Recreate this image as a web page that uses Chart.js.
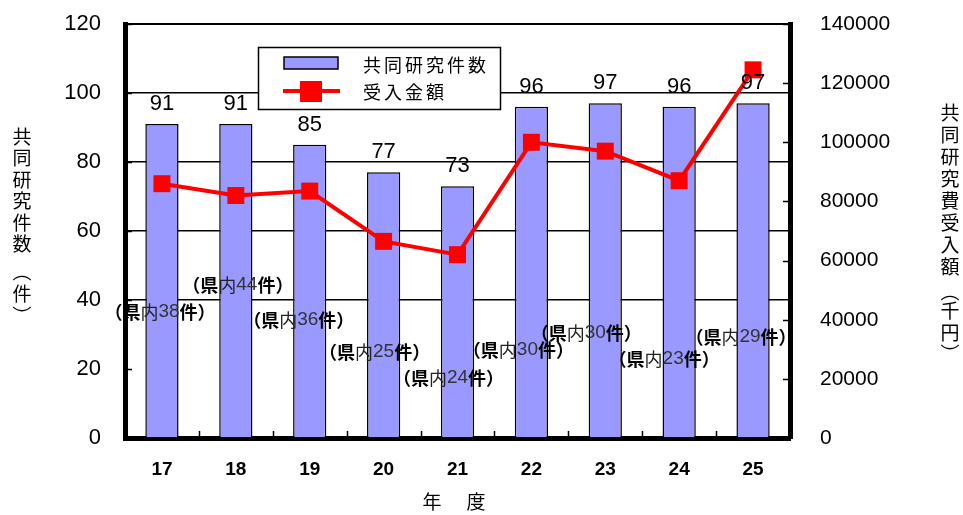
<!DOCTYPE html>
<html>
<head>
<meta charset="utf-8">
<script src="https://cdn.jsdelivr.net/npm/chart.js@4"></script>
<style>
  body { margin: 0; background: #fff; }
  #wrap { width: 963px; height: 515px; }
</style>
</head>
<body>
<div id="wrap"><canvas id="kenkyuChart" width="963" height="515"></canvas></div>
<script>
// data
const years = ['17', '18', '19', '20', '21', '22', '23', '24', '25'];
const kensu = [91, 91, 85, 77, 73, 96, 97, 96, 97];            // 共同研究件数
const ukeire = [86000, 82000, 83500, 66500, 62000, 100000, 97000, 87000, 124500]; // 受入金額 (千円)
const kennai = [38, 44, 36, 25, 24, 30, 30, 23, 29];            // 県内件数

// where the (県内xx件) notes sit: px shift from category centre, height in left-axis units
const kennaiDx = [-2, 2, -11, -9, -9, -13, -19, -15, -12];
const kennaiY = [36.5, 44.3, 34.2, 24.9, 17.4, 25.5, 30.4, 22.9, 29.3];

const JP = '"Noto Sans CJK JP", sans-serif';
const NUM = '"Liberation Sans", Arial, sans-serif';

function vText(ctx, chars, x, ys) {
  chars.forEach((c, i) => ctx.fillText(c, x, ys[i]));
}

const extras = {
  id: 'extras',
  afterDatasetsDraw(chart) {
    const ctx = chart.ctx;
    const a = chart.chartArea;
    const x = chart.scales.x, y = chart.scales.y, y1 = chart.scales.y1;
    ctx.save();

    // little inner ticks
    ctx.strokeStyle = '#000';
    ctx.lineWidth = 1.5;
    ctx.beginPath();
    y.ticks.forEach(t => {
      const py = Math.round(y.getPixelForValue(t.value)) + 0.5;
      ctx.moveTo(a.left, py); ctx.lineTo(a.left + 7, py);
    });
    y1.ticks.forEach(t => {
      const py = Math.round(y1.getPixelForValue(t.value)) + 0.5;
      ctx.moveTo(a.right - 7, py); ctx.lineTo(a.right, py);
    });
    for (let i = 0; i < years.length - 1; i++) {
      const px = Math.round((x.getPixelForValue(i) + x.getPixelForValue(i + 1)) / 2) + 0.5;
      ctx.moveTo(px, a.bottom); ctx.lineTo(px, a.bottom - 7);
    }
    ctx.stroke();

    // values above bars
    ctx.fillStyle = '#000';
    ctx.font = '22px ' + NUM;
    ctx.textAlign = 'center';
    ctx.textBaseline = 'middle';
    chart.getDatasetMeta(0).data.forEach((bar, i) => {
      ctx.fillText(String(kensu[i]), bar.x, bar.y - 20);
    });

    // (県内xx件) notes, mixed weights like the original
    kennai.forEach((n, i) => {
      const parts = [
        ['（県', 'bold 18px ' + JP, '#000'],
        ['内', '18px ' + JP, '#222'],
        [String(n), '19px ' + NUM, '#333'],
        ['件）', 'bold 18px ' + JP, '#000']
      ];
      let total = 0;
      parts.forEach(p => { ctx.font = p[1]; total += ctx.measureText(p[0]).width; });
      let px = x.getPixelForValue(i) + kennaiDx[i] - total / 2;
      const py = y.getPixelForValue(kennaiY[i]);
      ctx.textAlign = 'left';
      parts.forEach(p => {
        ctx.font = p[1];
        ctx.fillStyle = p[2];
        ctx.fillText(p[0], px, py);
        px += ctx.measureText(p[0]).width;
      });
    });
    ctx.restore();
  },
  afterDraw(chart) {
    const ctx = chart.ctx;
    const a = chart.chartArea;
    ctx.save();

    // top frame line
    ctx.strokeStyle = '#000';
    ctx.lineWidth = 2;
    ctx.beginPath();
    ctx.moveTo(a.left, a.top); ctx.lineTo(a.right, a.top);
    ctx.stroke();

    // legend box
    ctx.fillStyle = '#fff';
    ctx.fillRect(258, 47, 242, 62);
    ctx.lineWidth = 1.5;
    ctx.strokeRect(258.5, 47.5, 242, 62);
    ctx.fillStyle = '#9999FF';
    ctx.fillRect(284, 57, 54, 12);
    ctx.strokeRect(284, 57, 54, 12);
    ctx.strokeStyle = '#FF0000';
    ctx.lineWidth = 4;
    ctx.beginPath();
    ctx.moveTo(283, 91); ctx.lineTo(340, 91);
    ctx.stroke();
    ctx.fillStyle = '#FF0000';
    ctx.fillRect(300, 81, 22, 21);

    ctx.fillStyle = '#000';
    ctx.font = '18px ' + JP;
    ctx.textAlign = 'center';
    ctx.textBaseline = 'middle';
    Array.from('共同研究件数').forEach((c, i) => ctx.fillText(c, 372 + i * 21, 65));
    Array.from('受入金額').forEach((c, i) => ctx.fillText(c, 372 + i * 21, 92));

    // vertical axis titles
    ctx.font = '19px ' + JP;
    vText(ctx, Array.from('共同研究件数︵件︶'), 22, [137, 158, 180, 201, 223, 244, 272, 294, 316]);
    vText(ctx, Array.from('共同研究費受入額︵千円︶'), 950,
      [113, 135, 157, 179, 201, 223, 245, 267, 292, 311, 333, 354]);

    // x title
    ctx.font = '19px ' + JP;
    ctx.fillText('年', 432, 502);
    ctx.fillText('度', 476, 502);
    ctx.restore();
  }
};

function noPad(s) {
  s.paddingTop = 0;
  s.paddingBottom = 0;
  s.paddingLeft = 0;
  s.paddingRight = 0;
}

new Chart(document.getElementById('kenkyuChart').getContext('2d'), {
  type: 'bar',
  data: {
    labels: years,
    datasets: [
      {
        label: '共同研究件数',
        data: kensu,
        yAxisID: 'y',
        backgroundColor: '#9999FF',
        borderColor: '#000',
        borderWidth: 1.5,
        categoryPercentage: 0.45,
        barPercentage: 1.0,
        order: 2
      },
      {
        label: '受入金額',
        type: 'line',
        data: ukeire,
        yAxisID: 'y1',
        borderColor: '#FF0000',
        borderWidth: 4,
        pointStyle: 'rect',
        pointRadius: 12,
        pointBackgroundColor: '#FF0000',
        pointBorderColor: '#FF0000',
        pointBorderWidth: 0,
        tension: 0,
        order: 1
      }
    ]
  },
  options: {
    responsive: false,
    devicePixelRatio: 1,
    animation: false,
    layout: { padding: { top: 24, left: 0, right: 0, bottom: 0 } },
    scales: {
      x: {
        grid: { display: false, drawTicks: false },
        border: { color: '#000', width: 5 },
        ticks: { color: '#000', font: { family: NUM, size: 19, weight: 'bold' }, padding: 20 },
        afterFit(s) { s.height = 77; noPad(s); }
      },
      y: {
        position: 'left',
        min: 0, max: 120,
        ticks: { stepSize: 20, color: '#000', font: { family: NUM, size: 22 }, padding: 24 },
        grid: {
          drawTicks: false,
          color: ctx => (ctx.tick && ctx.tick.value >= 40 && ctx.tick.value <= 100) ? '#000' : 'rgba(0,0,0,0)',
          lineWidth: 1.5
        },
        border: { color: '#000', width: 5 },
        afterFit(s) { s.width = 125; noPad(s); }
      },
      y1: {
        position: 'right',
        min: 0, max: 140000,
        ticks: {
          stepSize: 20000, color: '#000', font: { family: NUM, size: 21 }, padding: 30,
          callback: v => String(v)
        },
        grid: { display: false, drawTicks: false },
        border: { color: '#000', width: 5 },
        afterFit(s) { s.width = 173; noPad(s); }
      }
    },
    plugins: {
      legend: { display: false },
      tooltip: { enabled: false }
    }
  },
  plugins: [extras]
});
</script>
</body>
</html>
